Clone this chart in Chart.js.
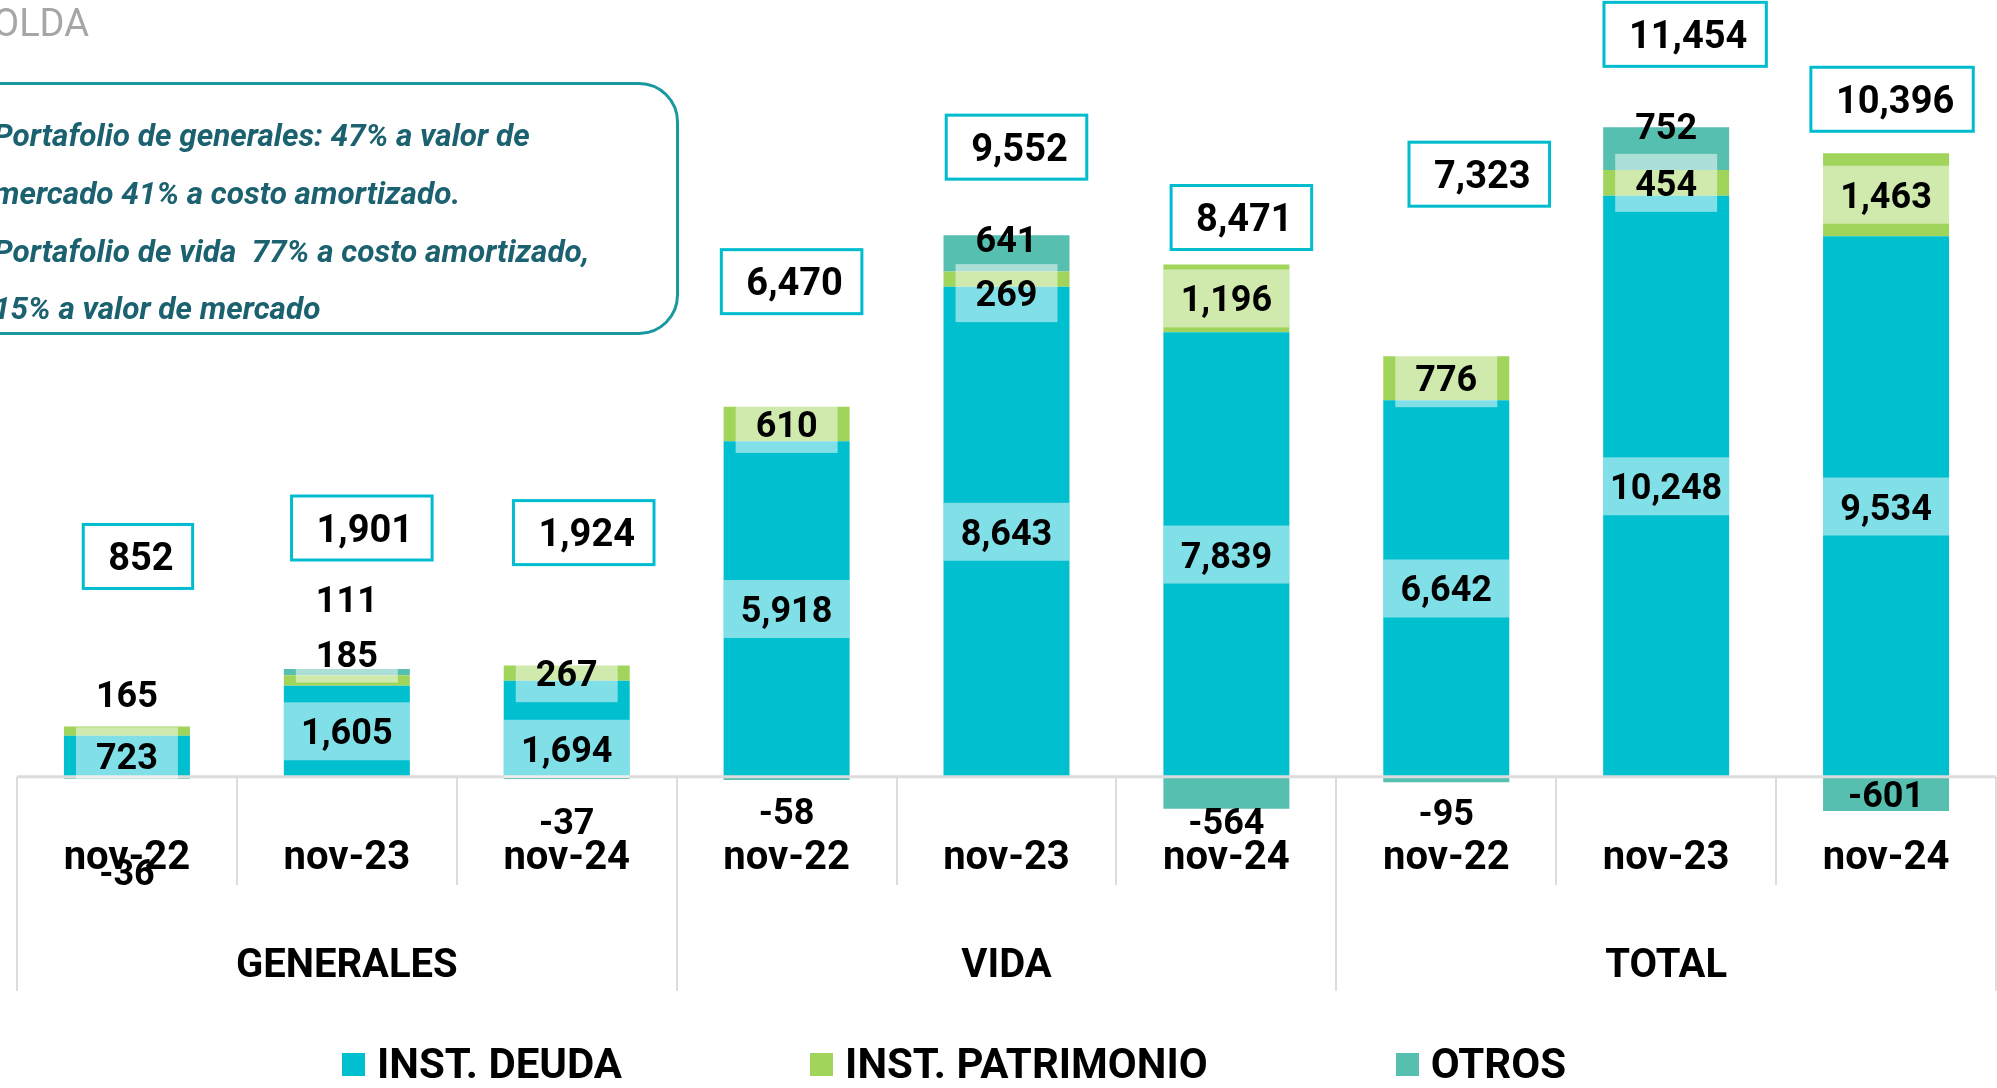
<!DOCTYPE html>
<html lang="es">
<head>
<meta charset="UTF-8">
<title>Portafolio de inversiones</title>
<script src="https://cdn.jsdelivr.net/npm/chart.js@4"></script>
<style>
  body { margin: 0; background: #fff; font-family: Roboto, sans-serif; }
  #wrap { position: relative; width: 1997px; height: 1088px; overflow: hidden; }
  #c { position: absolute; left: 0; top: 0; }
  .title { position: absolute; left: -7px; top: 0; font-size: 38px; color: #a6a6a6; line-height: 46px; }
  .note {
    position: absolute; left: -40px; top: 82px; width: 713px; height: 247px;
    border: 3px solid #1a98a0; border-radius: 40px; box-sizing: content-box;
  }
  .note p {
    position: absolute; left: 30px; margin: 0; white-space: nowrap;
    font-size: 31.5px; font-weight: bold; font-style: italic; color: #1b6170;
  }
  .legend { position: absolute; left: 342px; top: 1040px; display: flex; align-items: center; }
  .legend .item { display: flex; align-items: center; margin-right: 188px; }
  .legend .sw { width: 23px; height: 23px; margin-right: 12px; }
  .legend .tx { font-size: 42px; font-weight: bold; color: #000; line-height: 48px; }
</style>
</head>
<body>
<div id="wrap">
  <canvas id="c" width="1997" height="1088"></canvas>
  <div class="title">OLDA</div>
  <div class="note">
    <p style="top:32px">Portafolio de generales: 47% a valor de</p>
    <p style="top:90px">mercado 41% a costo amortizado.</p>
    <p style="top:148px">Portafolio de vida&nbsp; 77% a costo amortizado,</p>
    <p style="top:205px">15% a valor de mercado</p>
  </div>
  <div class="legend" id="legend"></div>
</div>
<script>
// valores
const categories = ['nov-22', 'nov-23', 'nov-24', 'nov-22', 'nov-23', 'nov-24', 'nov-22', 'nov-23', 'nov-24'];
const groups = ['GENERALES', 'VIDA', 'TOTAL'];
const deuda = [723, 1605, 1694, 5918, 8643, 7839, 6642, 10248, 9534];
const patrimonio = [165, 185, 267, 610, 269, 1196, 776, 454, 1463];
const otros = [-36, 111, -37, -58, 641, -564, -95, 752, -601];
const totales = [852, 1901, 1924, 6470, 9552, 8471, 7323, 11454, 10396];

// desplazamiento de etiquetas (px), como quedaron en el original
const deudaShift = [0, 0, 20, 0, 0, 0, 0, 0, 0];
const patrimonioShift = [-37, -27, 0, 0, 14, 0, 0, 0, 0];
const otrosShift = [94, -73, 43, 33, -14, 28, 33, -23, 0];
const totalDy = [-170, -141, -133, -125, -88, -47, -182, -93, -54];
const totalDx = [11, 15, 17, 5, 10, 15, 33, 19, 6];

const fmt = v => v.toLocaleString('en-US');

const labelsPlugin = {
  id: 'labels',
  afterDatasetsDraw(chart) {
    const ctx = chart.ctx;
    const x = chart.scales.x, y = chart.scales.y;
    const step = x.getPixelForValue(1) - x.getPixelForValue(0);
    const zero = y.getPixelForValue(0);

    // ejes: linea base y separadores
    ctx.save();
    ctx.strokeStyle = '#dcdcdc';
    ctx.lineWidth = 3;
    ctx.beginPath();
    ctx.moveTo(chart.chartArea.left, zero);
    ctx.lineTo(chart.chartArea.right, zero);
    ctx.stroke();
    ctx.lineWidth = 2;
    for (let i = 0; i <= categories.length; i++) {
      const px = Math.round(x.getPixelForValue(0) - step / 2 + i * step);
      ctx.beginPath();
      ctx.moveTo(px, zero);
      ctx.lineTo(px, i % 3 === 0 ? 991 : 885);
      ctx.stroke();
    }

    // etiquetas de categoria
    ctx.fillStyle = '#000';
    ctx.textAlign = 'center';
    ctx.textBaseline = 'alphabetic';
    ctx.font = 'bold 40px Roboto';
    categories.forEach((c, i) => ctx.fillText(c, x.getPixelForValue(i), 869));
    groups.forEach((g, gi) => ctx.fillText(g, x.getPixelForValue(gi * 3 + 1), 977));

    // etiquetas de datos
    ctx.font = 'bold 36px Roboto';
    ctx.textBaseline = 'middle';
    chart.data.datasets.forEach((ds, di) => {
      const meta = chart.getDatasetMeta(di);
      meta.data.forEach((bar, j) => {
        const cy = (bar.y + bar.base) / 2 + ds.shift[j];
        const txt = fmt(ds.data[j]);
        const tw = ctx.measureText(txt).width;
        if (ds.labelBox) {
          const bw = Math.min(tw + 40, bar.width);
          ctx.fillStyle = 'rgba(255,255,255,0.5)';
          ctx.fillRect(bar.x - bw / 2, cy - 29, bw, 58);
        }
        ctx.fillStyle = '#000';
        ctx.fillText(txt, bar.x, cy + 4);
      });
    });

    // totales en recuadro
    ctx.font = 'bold 38px Roboto';
    const m0 = chart.getDatasetMeta(0), m1 = chart.getDatasetMeta(1), m2 = chart.getDatasetMeta(2);
    totales.forEach((t, j) => {
      const top = Math.min(m0.data[j].y, m1.data[j].y, otros[j] > 0 ? m2.data[j].y : Infinity);
      const cx = x.getPixelForValue(j) + totalDx[j];
      const cy = top + totalDy[j];
      const txt = fmt(t);
      const tw = ctx.measureText(txt).width;
      const bw = tw + 44, bh = 64;
      ctx.fillStyle = '#fff';
      ctx.fillRect(cx - bw / 2, cy - bh / 2, bw, bh);
      ctx.strokeStyle = '#00bccf';
      ctx.lineWidth = 3;
      ctx.strokeRect(cx - bw / 2, cy - bh / 2, bw, bh);
      ctx.fillStyle = '#000';
      ctx.fillText(txt, cx + 3, cy + 4);
    });
    ctx.restore();
  }
};

const chart = new Chart(document.getElementById('c'), {
  type: 'bar',
  data: {
    labels: categories,
    datasets: [
      { label: 'INST. DEUDA', data: deuda, backgroundColor: '#00bfcf', shift: deudaShift, labelBox: true },
      { label: 'INST. PATRIMONIO', data: patrimonio, backgroundColor: '#a0d45a', shift: patrimonioShift, labelBox: true },
      { label: 'OTROS', data: otros, backgroundColor: '#57bfb0', shift: otrosShift, labelBox: false }
    ]
  },
  options: {
    responsive: false,
    animation: false,
    devicePixelRatio: 1,
    layout: { padding: { left: 17, right: 1, top: 0, bottom: 254.5 } },
    datasets: { bar: { categoryPercentage: 1, barPercentage: 0.573, borderWidth: 0 } },
    scales: {
      x: { stacked: true, display: false },
      y: { stacked: true, display: false, min: -1000, max: 13700 }
    },
    plugins: { legend: { display: false }, tooltip: { enabled: false } }
  },
  plugins: [labelsPlugin]
});

// leyenda
const leg = document.getElementById('legend');
chart.data.datasets.forEach(ds => {
  const it = document.createElement('div');
  it.className = 'item';
  it.innerHTML = '<span class="sw" style="background:' + ds.backgroundColor + '"></span><span class="tx">' + ds.label + '</span>';
  leg.appendChild(it);
});
</script>
</body>
</html>
